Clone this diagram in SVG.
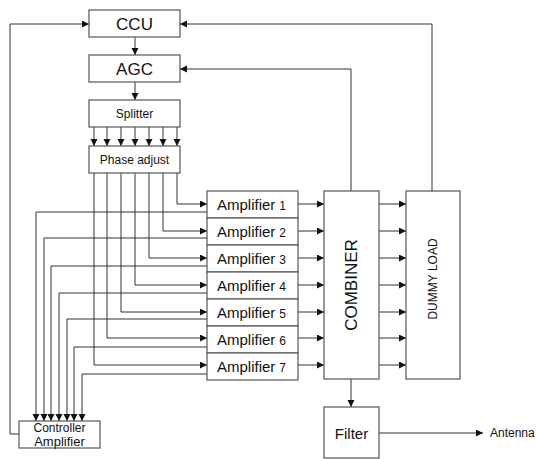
<svg xmlns="http://www.w3.org/2000/svg" width="536" height="459" viewBox="0 0 536 459">
<style>
.box{fill:#fff;stroke:#555;stroke-width:1.2}
.ln{fill:none;stroke:#333;stroke-width:1}
.ar{marker-end:url(#a)}
text{font-family:"Liberation Sans","DejaVu Sans",sans-serif;fill:#111}
.big{font-size:17px;text-anchor:middle}
.mid{font-size:12px;text-anchor:middle}
.amp{font-size:15px}
.num{font-size:12px}
</style>
<defs>
<marker id="a" markerUnits="userSpaceOnUse" markerWidth="8" markerHeight="8" refX="7" refY="3.5" orient="auto">
<path d="M0,0 L7,3.5 L0,7 z" fill="#111"/>
</marker>
</defs>
<g id="connectors">
<path class="ln ar" d="M135,37 V55"/>
<path class="ln ar" d="M135,82 V100"/>
<path class="ln ar" d="M94,127 V146"/>
<path class="ln ar" d="M107,127 V146"/>
<path class="ln ar" d="M121,127 V146"/>
<path class="ln ar" d="M135,127 V146"/>
<path class="ln ar" d="M149,127 V146"/>
<path class="ln ar" d="M163,127 V146"/>
<path class="ln ar" d="M177,127 V146"/>
<path class="ln ar" d="M177,173 V204 H207"/>
<path class="ln ar" d="M163,173 V231 H207"/>
<path class="ln ar" d="M149,173 V258 H207"/>
<path class="ln ar" d="M135,173 V285 H207"/>
<path class="ln ar" d="M121,173 V312 H207"/>
<path class="ln ar" d="M107,173 V338 H207"/>
<path class="ln ar" d="M94,173 V365 H207"/>
<path class="ln ar" d="M207,212 H36 V421"/>
<path class="ln ar" d="M207,238 H44 V421"/>
<path class="ln ar" d="M207,266 H51 V421"/>
<path class="ln ar" d="M207,293 H59 V421"/>
<path class="ln ar" d="M207,319 H67 V421"/>
<path class="ln ar" d="M207,347 H74 V421"/>
<path class="ln ar" d="M207,374 H82 V421"/>
<path class="ln ar" d="M298,204 H324"/>
<path class="ln ar" d="M298,231 H324"/>
<path class="ln ar" d="M298,258 H324"/>
<path class="ln ar" d="M298,285 H324"/>
<path class="ln ar" d="M298,312 H324"/>
<path class="ln ar" d="M298,338 H324"/>
<path class="ln ar" d="M298,365 H324"/>
<path class="ln ar" d="M379,204 H406"/>
<path class="ln ar" d="M379,231 H406"/>
<path class="ln ar" d="M379,258 H406"/>
<path class="ln ar" d="M379,285 H406"/>
<path class="ln ar" d="M379,312 H406"/>
<path class="ln ar" d="M379,338 H406"/>
<path class="ln ar" d="M379,365 H406"/>
<path class="ln ar" d="M351,379 V407"/>
<path class="ln ar" d="M379,433 H483"/>
<path class="ln ar" d="M351,191 V69 H180"/>
<path class="ln ar" d="M432,191 V24 H180"/>
<path class="ln ar" d="M19,434 H10 V24 H89"/>
</g>
<g id="ccu"><rect class="box" x="89" y="10" width="91" height="27"/><text class="big" x="134.5" y="30">CCU</text></g>
<g id="agc"><rect class="box" x="89" y="55" width="91" height="27"/><text class="big" x="134.5" y="75">AGC</text></g>
<g id="splitter"><rect class="box" x="89" y="100" width="91" height="27"/><text class="mid" x="134.5" y="118">Splitter</text></g>
<g id="phase"><rect class="box" x="89" y="146" width="91" height="27"/><text class="mid" x="134.5" y="164">Phase adjust</text></g>
<g id="amp1"><rect class="box" x="207" y="191" width="91" height="27"/><text x="217" y="209.5"><tspan class="amp">Amplifier</tspan><tspan class="num" dx="4">1</tspan></text></g>
<g id="amp2"><rect class="box" x="207" y="218" width="91" height="27"/><text x="217" y="236.5"><tspan class="amp">Amplifier</tspan><tspan class="num" dx="4">2</tspan></text></g>
<g id="amp3"><rect class="box" x="207" y="245" width="91" height="27"/><text x="217" y="263.5"><tspan class="amp">Amplifier</tspan><tspan class="num" dx="4">3</tspan></text></g>
<g id="amp4"><rect class="box" x="207" y="272" width="91" height="27"/><text x="217" y="290.5"><tspan class="amp">Amplifier</tspan><tspan class="num" dx="4">4</tspan></text></g>
<g id="amp5"><rect class="box" x="207" y="299" width="91" height="27"/><text x="217" y="317.5"><tspan class="amp">Amplifier</tspan><tspan class="num" dx="4">5</tspan></text></g>
<g id="amp6"><rect class="box" x="207" y="326" width="91" height="27"/><text x="217" y="344.5"><tspan class="amp">Amplifier</tspan><tspan class="num" dx="4">6</tspan></text></g>
<g id="amp7"><rect class="box" x="207" y="353" width="91" height="27"/><text x="217" y="371.5"><tspan class="amp">Amplifier</tspan><tspan class="num" dx="4">7</tspan></text></g>
<g id="combiner"><rect class="box" x="324" y="191" width="55" height="188"/><text class="big" transform="translate(357,285) rotate(-90)" x="0" y="0">COMBINER</text></g>
<g id="dummy"><rect class="box" x="406" y="191" width="54" height="188"/><text class="mid" style="font-size:12px" transform="translate(437,279) rotate(-90)" x="0" y="0">DUMMY LOAD</text></g>
<g id="filter"><rect class="box" x="324" y="407" width="55" height="51"/><text class="mid" style="font-size:15px" x="351.5" y="439">Filter</text></g>
<g id="controller"><rect class="box" x="19" y="421" width="81" height="27"/><text class="mid" x="59.5" y="432">Controller</text><text class="mid" style="font-size:13px" x="59.5" y="446">Amplifier</text></g>
<g id="antenna"><text style="font-size:12px" x="490" y="437">Antenna</text></g>
</svg>
